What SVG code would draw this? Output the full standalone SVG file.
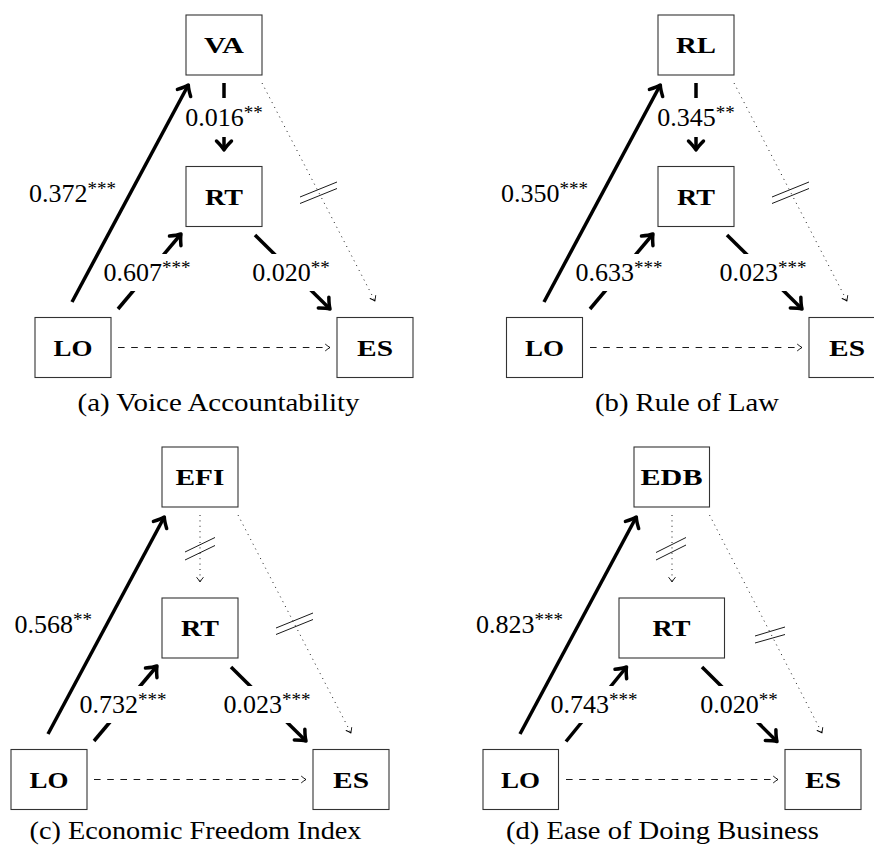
<svg xmlns="http://www.w3.org/2000/svg" width="874" height="845" viewBox="0 0 874 845">
<style>
.bg{fill:#fff}
.box{fill:#fff;stroke:#333;stroke-width:1.1}
.nl{font-weight:bold;font-size:24px;text-anchor:middle;fill:#000}
.el{font-size:26px;fill:#000}
.st{font-size:19px}
.mid{text-anchor:middle}
.end{text-anchor:end}
.cap{font-size:26px;text-anchor:middle;fill:#000}
.thick{stroke:#000;stroke-width:3.5;fill:none;marker-end:url(#ah)}
.dot{stroke:#000;stroke-width:0.9;stroke-dasharray:1 4.4;fill:none;marker-end:url(#at)}
.dash{stroke:#000;stroke-width:0.9;stroke-dasharray:6.6 6.6;fill:none;marker-end:url(#at)}
.slash{stroke:#000;stroke-width:0.9;fill:none}
.gap{fill:#fff}
</style>
<defs>
<marker id="ah" markerUnits="userSpaceOnUse" orient="auto" refX="0" refY="0" markerWidth="24" markerHeight="24" viewBox="-16 -12 24 24" overflow="visible">
<path d="M -9 -7.5 Q -3.5 -2 0 0 Q -3.5 2 -9 7.5" fill="none" stroke="#000" stroke-width="3.5" stroke-linecap="round" stroke-linejoin="round"/>
</marker>
<marker id="at" markerUnits="userSpaceOnUse" orient="auto" refX="0" refY="0" markerWidth="12" markerHeight="12" viewBox="-8 -6 12 12" overflow="visible">
<path d="M -4.5 -3.2 Q -1.8 -1 0 0 Q -1.8 1 -4.5 3.2" fill="none" stroke="#000" stroke-width="0.9" stroke-linecap="round" stroke-linejoin="round"/>
</marker>
</defs>
<rect class="bg" x="0" y="0" width="874" height="845"/>

<g font-family="'Liberation Serif', 'Times New Roman', 'DejaVu Serif', serif">
<!-- Panel (a) -->
<g id="panel-a">
<g id="a-connectors">
<line class="thick" x1="72" y1="302" x2="188.3" y2="85"/>
<line class="thick" x1="224" y1="83" x2="224" y2="150"/>
<line class="thick" x1="118" y1="309" x2="181" y2="234"/>
<line class="thick" x1="255" y1="235" x2="330" y2="309"/>
<line class="dot" x1="262" y1="83" x2="375" y2="301"/>
<line class="dash" x1="118" y1="347.5" x2="330" y2="347.5"/>
<line class="slash" x1="300" y1="197" x2="337" y2="182"/>
<line class="slash" x1="300" y1="203.5" x2="337" y2="188.5"/>
<rect class="gap" x="210" y="98" width="28" height="39"/>
<rect class="gap" x="128" y="254" width="44" height="37"/>
<rect class="gap" x="270" y="254" width="48" height="37"/>
<text class="el end" x="116" y="202">0.372<tspan class="st" dy="-7">***</tspan></text>
<text class="el mid" x="224" y="126">0.016<tspan class="st" dy="-7">**</tspan></text>
<text class="el mid" x="147" y="281">0.607<tspan class="st" dy="-7">***</tspan></text>
<text class="el mid" x="291" y="281">0.020<tspan class="st" dy="-7">**</tspan></text>
</g>
<g id="a-VA"><rect class="box" x="186" y="15" width="76" height="60"/><text class="nl" x="224" y="53" textLength="40" lengthAdjust="spacingAndGlyphs">VA</text></g>
<g id="a-RT"><rect class="box" x="186" y="166.5" width="76" height="60"/><text class="nl" x="224" y="204.5" textLength="38" lengthAdjust="spacingAndGlyphs">RT</text></g>
<g id="a-LO"><rect class="box" x="35" y="317.5" width="76" height="60"/><text class="nl" x="73" y="355.5" textLength="39" lengthAdjust="spacingAndGlyphs">LO</text></g>
<g id="a-ES"><rect class="box" x="337" y="317.5" width="76" height="60"/><text class="nl" x="375" y="355.5" textLength="36" lengthAdjust="spacingAndGlyphs">ES</text></g>
<text class="cap" x="218.5" y="411" textLength="282" lengthAdjust="spacingAndGlyphs">(a) Voice Accountability</text>
</g>

<!-- Panel (b) -->
<g id="panel-b" transform="translate(472,0)">
<g id="b-connectors">
<line class="thick" x1="72" y1="302" x2="188.3" y2="85"/>
<line class="thick" x1="224" y1="83" x2="224" y2="150"/>
<line class="thick" x1="118" y1="309" x2="181" y2="234"/>
<line class="thick" x1="255" y1="235" x2="330" y2="309"/>
<line class="dot" x1="262" y1="83" x2="375" y2="301"/>
<line class="dash" x1="118" y1="347.5" x2="330" y2="347.5"/>
<line class="slash" x1="300" y1="197" x2="337" y2="182"/>
<line class="slash" x1="300" y1="203.5" x2="337" y2="188.5"/>
<rect class="gap" x="210" y="98" width="28" height="39"/>
<rect class="gap" x="128" y="254" width="44" height="37"/>
<rect class="gap" x="270" y="254" width="48" height="37"/>
<text class="el end" x="116" y="202">0.350<tspan class="st" dy="-7">***</tspan></text>
<text class="el mid" x="224" y="126">0.345<tspan class="st" dy="-7">**</tspan></text>
<text class="el mid" x="147" y="281">0.633<tspan class="st" dy="-7">***</tspan></text>
<text class="el mid" x="291" y="281">0.023<tspan class="st" dy="-7">***</tspan></text>
</g>
<g id="b-RL"><rect class="box" x="186" y="15" width="76" height="60"/><text class="nl" x="224" y="53" textLength="40" lengthAdjust="spacingAndGlyphs">RL</text></g>
<g id="b-RT"><rect class="box" x="186" y="166.5" width="76" height="60"/><text class="nl" x="224" y="204.5" textLength="38" lengthAdjust="spacingAndGlyphs">RT</text></g>
<g id="b-LO"><rect class="box" x="34.5" y="317.5" width="76" height="60"/><text class="nl" x="72.5" y="355.5" textLength="39" lengthAdjust="spacingAndGlyphs">LO</text></g>
<g id="b-ES"><rect class="box" x="337" y="317.5" width="76" height="60"/><text class="nl" x="375" y="355.5" textLength="36" lengthAdjust="spacingAndGlyphs">ES</text></g>
<text class="cap" x="215" y="411" textLength="184" lengthAdjust="spacingAndGlyphs">(b) Rule of Law</text>
</g>

<!-- Panel (c) -->
<g id="panel-c" transform="translate(-24,432)">
<g id="c-connectors">
<line class="thick" x1="72" y1="302" x2="188.3" y2="85"/>
<line class="dot" x1="224" y1="83" x2="224" y2="150"/>
<line class="slash" x1="209" y1="120" x2="239" y2="105.5"/>
<line class="slash" x1="209" y1="128" x2="239" y2="113.5"/>
<line class="thick" x1="118" y1="309" x2="181" y2="234"/>
<line class="thick" x1="255" y1="235" x2="330" y2="309"/>
<line class="dot" x1="262" y1="83" x2="375" y2="301"/>
<line class="dash" x1="118" y1="347.5" x2="330" y2="347.5"/>
<line class="slash" x1="300" y1="196" x2="337" y2="181"/>
<line class="slash" x1="300" y1="202.5" x2="337" y2="187.5"/>
<rect class="gap" x="128" y="254" width="44" height="37"/>
<rect class="gap" x="270" y="254" width="48" height="37"/>
<text class="el end" x="116" y="201">0.568<tspan class="st" dy="-7">**</tspan></text>
<text class="el mid" x="147" y="281">0.732<tspan class="st" dy="-7">***</tspan></text>
<text class="el mid" x="291" y="281">0.023<tspan class="st" dy="-7">***</tspan></text>
</g>
<g id="c-EFI"><rect class="box" x="186" y="15" width="76" height="60"/><text class="nl" x="224" y="53" textLength="49" lengthAdjust="spacingAndGlyphs">EFI</text></g>
<g id="c-RT"><rect class="box" x="186" y="166" width="76" height="60"/><text class="nl" x="224" y="204" textLength="38" lengthAdjust="spacingAndGlyphs">RT</text></g>
<g id="c-LO"><rect class="box" x="35" y="317.5" width="76" height="60"/><text class="nl" x="73" y="355.5" textLength="39" lengthAdjust="spacingAndGlyphs">LO</text></g>
<g id="c-ES"><rect class="box" x="337" y="317.5" width="76" height="60"/><text class="nl" x="375" y="355.5" textLength="36" lengthAdjust="spacingAndGlyphs">ES</text></g>
<text class="cap" x="219.5" y="407" textLength="332" lengthAdjust="spacingAndGlyphs">(c) Economic Freedom Index</text>
</g>

<!-- Panel (d) -->
<g id="panel-d" transform="translate(448,432)">
<g id="d-connectors">
<line class="thick" x1="72" y1="302" x2="188.3" y2="85"/>
<line class="dot" x1="224" y1="83" x2="224" y2="150"/>
<line class="slash" x1="208" y1="120.5" x2="238" y2="105.5"/>
<line class="slash" x1="208" y1="128" x2="238" y2="113"/>
<line class="thick" x1="118" y1="309.5" x2="178.5" y2="235"/>
<line class="thick" x1="254" y1="235" x2="329" y2="309.5"/>
<line class="dot" x1="261.5" y1="83" x2="374" y2="301"/>
<line class="dash" x1="118" y1="347.5" x2="330" y2="347.5"/>
<line class="slash" x1="307" y1="204" x2="337" y2="195"/>
<line class="slash" x1="307" y1="211" x2="337" y2="202.5"/>
<rect class="gap" x="127" y="254" width="44" height="37"/>
<rect class="gap" x="269" y="254" width="48" height="37"/>
<text class="el end" x="115" y="201">0.823<tspan class="st" dy="-7">***</tspan></text>
<text class="el mid" x="146" y="281">0.743<tspan class="st" dy="-7">***</tspan></text>
<text class="el mid" x="291" y="281">0.020<tspan class="st" dy="-7">**</tspan></text>
</g>
<g id="d-EDB"><rect class="box" x="186" y="15" width="75.5" height="60"/><text class="nl" x="223.5" y="53" textLength="62" lengthAdjust="spacingAndGlyphs">EDB</text></g>
<g id="d-RT"><rect class="box" x="171" y="166" width="105.5" height="60"/><text class="nl" x="223.5" y="204" textLength="38" lengthAdjust="spacingAndGlyphs">RT</text></g>
<g id="d-LO"><rect class="box" x="35" y="317.5" width="75.5" height="60"/><text class="nl" x="72.5" y="355.5" textLength="39" lengthAdjust="spacingAndGlyphs">LO</text></g>
<g id="d-ES"><rect class="box" x="337" y="317.5" width="76" height="60"/><text class="nl" x="375" y="355.5" textLength="36" lengthAdjust="spacingAndGlyphs">ES</text></g>
<text class="cap" x="214.5" y="407" textLength="313" lengthAdjust="spacingAndGlyphs">(d) Ease of Doing Business</text>
</g>
</g>
</svg>
